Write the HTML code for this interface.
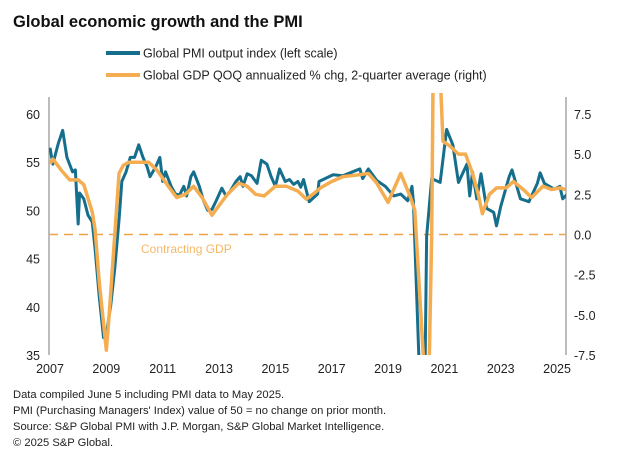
<!DOCTYPE html>
<html><head><meta charset="utf-8"><style>
body{margin:0;background:#fff;width:623px;height:470px;overflow:hidden;font-family:"Liberation Sans",sans-serif}
svg{position:absolute;left:0;top:0}
</style></head><body>
<svg id="c" width="623" height="470">
<text x="13" y="27" font-size="16.5" font-weight="bold" fill="#111">Global economic growth and the PMI</text>
<g>
<line x1="106" y1="53" x2="140" y2="53" stroke="#156f8c" stroke-width="4"/>
<text x="143" y="57.5" font-size="12.5" fill="#222">Global PMI output index (left scale)</text>
<line x1="106" y1="75" x2="140" y2="75" stroke="#f5ad52" stroke-width="4"/>
<text x="143" y="79.5" font-size="12.5" fill="#222">Global GDP QOQ annualized % chg, 2-quarter average (right)</text>
</g>
<defs><clipPath id="cp"><rect x="49" y="93" width="517" height="262"/></clipPath></defs>
<line x1="49" y1="97" x2="49" y2="355" stroke="#999" stroke-width="1.3"/>
<line x1="566" y1="97" x2="566" y2="355" stroke="#999" stroke-width="1.3"/>
<g id="ticks"></g>
<g id="series" clip-path="url(#cp)"></g>
<text x="141" y="253" font-size="12" fill="#f5b868">Contracting GDP</text>
<g font-size="11.2" fill="#222">
<text x="13" y="398">Data compiled June 5 including PMI data to May 2025.</text>
<text x="13" y="414">PMI (Purchasing Managers' Index) value of 50 = no change on prior month.</text>
<text x="13" y="430">Source: S&amp;P Global PMI with J.P. Morgan, S&amp;P Global Market Intelligence.</text>
<text x="13" y="446">© 2025 S&amp;P Global.</text>
</g>
</svg>
<script>
const leftTicks=[60,55,50,45,40,35];
const rightTicks=["7.5","5.0","2.5","0.0","-2.5","-5.0","-7.5"];
const yearTicks=[2007,2009,2011,2013,2015,2017,2019,2021,2023,2025];
const pmiDates=[2007.0,2007.1,2007.3,2007.45,2007.6,2007.8,2007.9,2008.0,2008.05,2008.2,2008.35,2008.5,2008.6,2008.75,2008.9,2009.0,2009.15,2009.3,2009.45,2009.55,2009.7,2009.85,2010.0,2010.15,2010.3,2010.45,2010.55,2010.75,2010.9,2011.0,2011.1,2011.3,2011.45,2011.6,2011.75,2011.85,2012.0,2012.1,2012.3,2012.45,2012.6,2012.75,2012.9,2013.1,2013.25,2013.4,2013.6,2013.75,2013.85,2014.0,2014.15,2014.35,2014.5,2014.7,2014.85,2015.0,2015.15,2015.35,2015.5,2015.65,2015.8,2015.9,2016.0,2016.2,2016.5,2016.55,2017.05,2017.4,2018.0,2018.1,2018.3,2018.6,2018.9,2019.2,2019.45,2019.7,2019.85,2019.9,2020.2,2020.3,2020.37,2020.55,2020.85,2021.08,2021.3,2021.5,2021.8,2021.9,2022.0,2022.15,2022.3,2022.5,2022.75,2022.85,2023.0,2023.3,2023.4,2023.7,2024.0,2024.3,2024.4,2024.55,2024.9,2025.1,2025.2,2025.37];
const pmiValues=[56.5,54.8,57,58.3,55.5,54,54.2,48.6,51.8,51.2,49.5,48.8,46,41,36.8,37.2,40,44,49,53,54,55.5,55.5,56.8,55.5,54.5,53.5,54.5,55.5,53,54,52.5,51.7,51.6,52.5,51.5,53.5,54,52.5,51,50,50.1,51,52.3,51.5,52,53,53.5,52.5,53.8,53.6,52.8,55.2,54.8,53.5,52.5,54.3,53,53.2,52.7,53,52.4,53.2,50.9,51.7,53,53.7,53.6,54.3,53.3,54.3,53.1,52.5,51.5,51.7,51,52.5,50.9,26,30,47.3,53.3,52.9,58.4,56.8,52.9,54.8,51.5,54,51.2,53.8,50.2,49.8,48.4,50.4,53.5,54.2,51.2,50.9,52.8,53.9,52.8,52.2,52.5,51.2,51.7];
const gdpDates=[2007.0,2007.1,2007.4,2007.7,2008.0,2008.2,2008.5,2008.6,2008.75,2009.0,2009.1,2009.3,2009.45,2009.6,2009.8,2010.2,2010.5,2010.8,2011.2,2011.5,2011.8,2012.1,2012.4,2012.75,2013.0,2013.3,2013.7,2014.0,2014.3,2014.6,2015.0,2015.4,2015.8,2016.1,2016.4,2016.6,2017.0,2017.4,2017.9,2018.3,2018.6,2019.0,2019.45,2019.8,2019.95,2020.1,2020.3,2020.45,2020.55,2020.6,2020.75,2020.85,2020.95,2021.2,2021.5,2021.75,2022.0,2022.2,2022.35,2022.6,2022.85,2023.2,2023.45,2023.8,2024.1,2024.5,2024.8,2025.1,2025.3];
const gdpValues=[4.4,4.7,4.0,3.4,3.4,3.1,1.4,0.3,-3,-7.2,-5,0,3.8,4.3,4.5,4.5,4.5,4.0,3.0,2.3,2.5,3.0,2.3,1.2,1.8,2.5,3.2,3.0,2.5,2.4,3.0,3.0,2.7,2.2,2.6,2.9,3.3,3.6,3.7,3.8,3.2,2.0,3.8,2.3,1.5,-3,-9,-9,0,10,15,10,5.8,5.5,5.0,5.0,3.8,2.5,1.3,2.5,2.9,2.9,3.3,2.8,2.3,3.0,2.8,2.9,2.8];
const NS="http://www.w3.org/2000/svg";
const TOP=114,BOT=355;
const x=t=>50+(t-2007)*28.17;
const yL=v=>TOP+(60-v)/25*(BOT-TOP);
const yR=v=>TOP+(7.5-v)/15*(BOT-TOP);
function mk(tag,attrs,parent,txt){const e=document.createElementNS(NS,tag);for(const k in attrs)e.setAttribute(k,attrs[k]);if(txt!==undefined)e.textContent=txt;parent.appendChild(e);return e;}
const tk=document.getElementById('ticks');
leftTicks.forEach(v=>{const e=mk('text',{x:40,y:yL(v)+5,'text-anchor':'end','font-size':'12.5',fill:'#222'},tk,String(v));

});
rightTicks.forEach(s=>{const e=mk('text',{x:574,y:yR(parseFloat(s))+5,'font-size':'12.5',fill:'#222'},tk,s);

});
yearTicks.forEach(t=>{const e=mk('text',{x:x(t),y:373,'text-anchor':'middle','font-size':'12.5',fill:'#222'},tk,String(t));

});
const zl=mk('line',{x1:49,x2:566,y1:yR(0),y2:yR(0),stroke:'#f0a34a','stroke-width':1.5,'stroke-dasharray':'9,6'},tk);


const sg=document.getElementById('series');
const p1=mk('polyline',{points:pmiDates.map((d,i)=>x(d)+','+yL(pmiValues[i])).join(' '),fill:'none',stroke:'#156f8c','stroke-width':3,'stroke-linejoin':'round'},sg);


const p2=mk('polyline',{points:gdpDates.map((d,i)=>x(d)+','+yR(gdpValues[i])).join(' '),fill:'none',stroke:'#f5ad52','stroke-width':3.5,'stroke-linejoin':'round'},sg);


</script>
</body></html>
